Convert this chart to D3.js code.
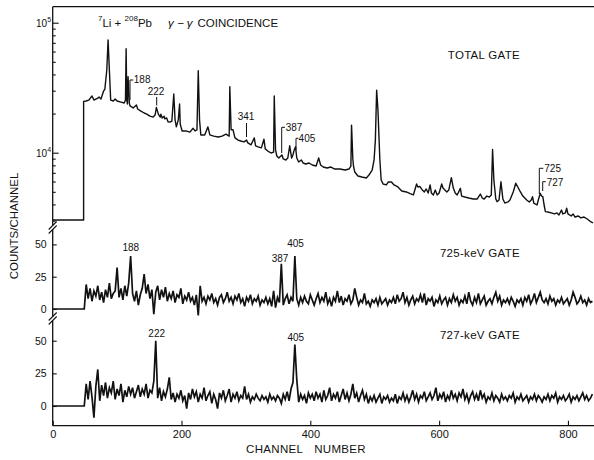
<!DOCTYPE html>
<html>
<head>
<meta charset="utf-8">
<script src="https://cdn.jsdelivr.net/npm/d3@7"></script>
<style>
body { margin: 0; background: #fff; }
svg { display: block; font-family: "Liberation Sans", Arial, sans-serif; }
</style>
</head>
<body>
<svg id="svg" width="594" height="460"></svg>
<script>
// ---- data ----
// total gate spectrum: [channel, counts]
const totalSpectrum = [
  [0,3040],[48,3040],[48,24800],[52,25000],[56,25400],[61,27300],[64,25400],[70,26300],[72,26800],[75,25900],
  [79,29800],[81,30900],[84,43300],[86,73600],[88,43300],[90,25400],[94,25000],[97,25900],[100,25000],[106,24500],
  [111,24100],[113,25400],[114,63100],[115,25400],[116,23700],[117,38500],[119,24100],[120,22900],[125,22100],[130,23300],
  [132,21700],[137,20900],[142,20200],[146,19800],[151,19100],[156,18800],[159,19500],[161,22300],[164,19800],[167,18800],
  [168,19800],[170,18500],[173,19100],[174,18200],[177,18500],[179,17300],[182,17200],[185,17500],[188,28300],[190,17900],
  [192,15800],[195,17900],[197,23700],[198,16600],[201,14700],[207,14700],[213,14400],[218,15400],[221,14700],[224,15000],
  [226,42700],[228,17900],[230,13700],[236,13700],[241,15800],[244,13700],[250,13400],[257,13200],[263,13400],[269,13900],
  [274,13400],[275,32200],[277,15000],[280,15000],[283,13000],[288,12500],[292,12300],[297,12100],[301,12500],[303,11900],
  [308,11500],[313,13000],[315,11300],[319,11100],[324,10900],[328,12700],[330,10700],[334,10300],[339,9950],[343,10100],
  [344,27300],[346,10500],[348,9430],[351,9100],[356,9600],[358,8950],[362,8790],[365,9100],[368,11300],[371,9100],
  [373,9600],[375,10500],[377,11100],[379,9100],[382,8480],[386,8790],[389,8330],[393,8190],[398,8330],[403,8040],
  [409,7900],[413,9100],[416,8040],[420,7760],[426,7620],[432,7760],[438,7490],[446,7490],[454,7360],[460,7490],
  [463,7900],[464,16300],[466,9000],[467,7900],[469,7110],[474,6620],[480,6500],[487,6390],[491,6730],[496,7360],
  [499,8790],[501,12500],[503,30300],[505,21300],[508,8790],[510,6170],[513,5740],[518,5650],[521,5950],[526,5950],
  [530,5650],[536,5450],[542,5070],[549,4990],[555,4840],[560,4730],[565,5740],[567,5450],[570,5500],[574,5160],
  [577,4990],[580,5260],[583,4900],[586,5650],[588,4900],[591,4730],[594,5160],[597,4730],[600,4900],[604,5740],
  [606,5350],[609,5160],[612,4990],[615,5160],[619,6420],[622,5350],[625,4900],[628,4730],[633,5320],[635,4640],
  [640,4560],[646,4480],[653,4400],[659,4400],[664,4810],[667,4480],[670,4400],[674,4640],[678,4560],[681,4730],
  [683,10600],[685,6170],[688,4400],[690,4200],[693,4330],[696,5980],[699,4400],[702,4100],[707,4180],[710,4330],
  [715,4990],[719,5820],[723,5350],[726,5010],[730,4640],[736,4330],[740,4180],[743,4330],[745,4590],[747,4100],
  [752,3960],[754,4330],[757,4870],[759,4640],[761,4590],[763,3960],[765,3520],[769,3500],[774,3440],[779,3380],
  [783,3440],[786,3320],[790,3620],[792,3380],[796,3440],[798,3740],[800,3380],[805,3260],[808,3380],[811,3200],
  [816,3260],[820,3150],[825,3200],[830,3090],[834,2980],[839,2880]
]

// gated spectra: counts every gateStep channels, starting at gateStart
const gateStart = 49
const gateStep = 3
const gate725 = [
  0,19,8,16,6,14,10,18,7,13, 5,15,9,20,8,12,14,32,9,16, 7,18,10,20,41,12,6,14,3,11,
  16,27,12,19,8,15,-4,13,18,7, 15,9,17,6,12,8,14,5,11,9, 16,4,10,7,13,6,9,3,11,-5,
  18,6,9,4,10,7,12,5,8,3, 9,11,5,8,13,6,9,4,10,7, 12,5,8,2,9,6,11,4,8,6,
  10,3,7,5,9,4,8,2,14,1, 9,5,35,3,8,11,4,9,6,41, 8,3,9,5,10,6,4,11,7,3,
  8,12,5,9,6,13,4,8,2,9, 6,14,5,10,3,8,6,11,4,7, 16,9,3,7,5,12,4,6,2,7,
  5,8,3,9,4,6,8,3,7,5, 9,4,11,6,8,13,5,9,3,7, 10,4,8,6,11,5,12,3,8,6,
  9,2,7,5,10,4,7,9,3,8, 5,11,6,9,3,7,5,10,4,13, 6,3,9,5,12,4,7,10,3,6,
  8,4,9,13,6,10,3,7,5,8, 4,9,6,2,7,5,8,3,9,6, 11,4,7,12,5,9,13,7,5,8,
  4,10,6,8,3,7,5,9,4,6, 8,3,7,13,9,4,6,10,5,7, 3,8,5,6
]
const gate727 = [
  0,17,5,19,7,-9,15,28,4,16, 8,18,6,14,10,19,5,13,8,17, 3,12,7,15,9,14,6,11,16,7,
  13,9,17,6,12,10,19,50,6,14, 4,11,7,13,22,5,10,3,9,6, 12,4,8,-2,10,5,13,7,11,3,
  9,6,14,4,8,11,2,9,5,-2, 10,6,12,4,8,13,3,9,6,11, 4,8,6,15,5,9,3,7,5,9,
  6,4,8,5,7,3,9,5,7,4, 8,6,2,9,5,11,4,13,18,47, 20,3,9,5,8,2,10,6,9,4,
  11,6,9,3,12,5,8,14,4,9, 6,11,3,8,13,5,10,4,9,17, 6,10,3,8,12,5,9,2,7,4,
  8,3,6,9,2,7,5,8,3,6, 4,9,2,7,5,10,4,8,3,7, 12,5,9,3,8,6,11,4,7,10,
  5,8,14,4,9,6,11,3,8,5, 12,6,9,4,10,7,13,5,9,3, 8,11,5,9,4,12,6,9,3,7,
  5,10,4,8,6,3,9,5,7,4, 8,6,10,3,7,5,9,4,6,8, 3,7,5,9,4,8,6,3,7,5,
  9,4,8,6,10,3,7,5,8,4, 6,9,3,7,5,8,4,7,10,5, 8,4,6,9
]

const channelTicks = [0, 200, 400, 600, 800]
const logMajor = [1e4, 1e5]
const logMinor = [3000,4000,5000,6000,7000,8000,9000,20000,30000,40000,50000,60000,70000,80000,90000]
const gateTicks = [0, 25, 50]

// peak labels
const totalLabels = ['188', '222', '341', '387', '405', '725', '727']
const gateLabels725 = ['188', '387', '405']
const gateLabels727 = ['222', '405']

// ---- drawing ----
const svg = d3.select('#svg')
const ink = '#111'

const x = d3.scaleLinear().domain([0, 840]).range([52.7, 593.7])
const yTotal = d3.scaleLog().domain([1e4, 1e5]).range([152.7, 22.7])
const y725 = d3.scaleLinear().domain([0, 50]).range([309, 244.4])
const y727 = d3.scaleLinear().domain([0, 50]).range([406, 340.7])

const gatePoints = (vals) => [[0, 0]].concat(vals.map((v, i) => [gateStart + i * gateStep, v]))

// spectra
svg.append('path')
  .datum(totalSpectrum)
  .attr('fill', 'none')
  .attr('stroke', ink)
  .attr('stroke-width', 1.4)
  .attr('stroke-linejoin', 'round')
  .attr('d', d3.line().x(d => x(d[0])).y(d => yTotal(d[1])))

;[[gate725, y725], [gate727, y727]].forEach(g => {
  svg.append('path')
    .datum(gatePoints(g[0]))
    .attr('fill', 'none')
    .attr('stroke', ink)
    .attr('stroke-width', 1.7)
    .attr('d', d3.line().x(d => x(d[0])).y(d => g[1](d[1])))
})

// frame: top line and left axis line (with breaks)
const x0 = x(0)
svg.append('line').attr('x1', x0).attr('x2', 594).attr('y1', 6.7).attr('y2', 6.7)
  .attr('stroke', ink).attr('stroke-width', 1.3)
const axisSegs = [[6.7, 225.5], [229.5, 316.5], [320.5, 425.7]]
axisSegs.forEach(s => {
  svg.append('line').attr('x1', x0).attr('x2', x0).attr('y1', s[0]).attr('y2', s[1])
    .attr('stroke', ink).attr('stroke-width', 1.3)
})
// break marks
;[227.5, 318.5].forEach(b => {
  [-2, 2].forEach(off => {
    svg.append('line')
      .attr('x1', x0 - 4).attr('y1', b + off + 4)
      .attr('x2', x0 + 4).attr('y2', b + off - 4)
      .attr('stroke', ink).attr('stroke-width', 1.1)
  })
})

// log ticks (inward)
const tickStyle = g => {
  g.select('.domain').remove()
  g.selectAll('line').attr('stroke', ink).attr('stroke-width', 1.1)
}
svg.append('g').attr('transform', `translate(${x0},0)`)
  .call(d3.axisRight(yTotal).tickValues(logMinor).tickSize(3).tickFormat(''))
  .call(tickStyle)
svg.append('g').attr('transform', `translate(${x0},0)`)
  .call(d3.axisRight(yTotal).tickValues(logMajor).tickSize(6).tickFormat(''))
  .call(tickStyle)

logMajor.forEach(v => {
  const t = svg.append('text').attr('x', 36).attr('y', yTotal(v) + 4)
    .attr('font-size', 10).attr('fill', ink)
  t.append('tspan').text('10')
  t.append('tspan').attr('font-size', 7).attr('dy', -5).text(String(Math.round(Math.log10(v))))
})

// gate axes
;[y725, y727].forEach(sc => {
  svg.append('g').attr('transform', `translate(${x0},0)`)
    .call(d3.axisLeft(sc).tickValues(gateTicks).tickSize(-4).tickPadding(6))
    .call(tickStyle)
    .call(g => g.selectAll('text').attr('font-size', 10.5).attr('fill', ink)
      .attr('font-family', '"Liberation Sans", Arial, sans-serif'))
})

// bottom axis
svg.append('g').attr('transform', 'translate(0,425.7)')
  .call(d3.axisBottom(x).tickValues(channelTicks).tickSize(-5).tickSizeOuter(0).tickPadding(5))
  .call(g => {
    g.select('.domain').attr('stroke', ink).attr('stroke-width', 1.3)
      .attr('d', `M${x0},0H594`)
    g.selectAll('line').attr('stroke', ink).attr('stroke-width', 1.1)
    g.selectAll('text').attr('font-size', 11).attr('fill', ink)
      .attr('font-family', '"Liberation Sans", Arial, sans-serif')
  })

// axis titles
svg.append('text').attr('x', 306).attr('y', 453).attr('text-anchor', 'middle')
  .attr('font-size', 11.5).attr('word-spacing', 8).attr('letter-spacing', 0.3)
  .attr('fill', ink).text('CHANNEL NUMBER')
svg.append('text').attr('transform', 'translate(18,226) rotate(-90)')
  .attr('text-anchor', 'middle').attr('font-size', 11.5).attr('fill', ink)
  .text('COUNTS/CHANNEL')

// title
const title = svg.append('text').attr('x', 98).attr('y', 26.7).attr('font-size', 11.5).attr('fill', ink)
title.append('tspan').attr('font-size', 8).attr('dy', -6).text('7')
title.append('tspan').attr('dy', 6).text('Li + ')
title.append('tspan').attr('font-size', 8).attr('dy', -6).text('208')
title.append('tspan').attr('dy', 6).text('Pb')
title.append('tspan').attr('dx', 16).attr('font-style', 'italic').text('γ − γ')
title.append('tspan').attr('dx', 5).text('COINCIDENCE')

// panel names
const panelNames = [['TOTAL GATE', 59], ['725-keV GATE', 257.3], ['727-keV GATE', 339.3]]
panelNames.forEach(p => {
  svg.append('text').attr('x', 520).attr('y', p[1]).attr('text-anchor', 'end')
    .attr('font-size', 11.5).attr('letter-spacing', 0.3).attr('fill', ink).text(p[0])
})

// peak markers in the total spectrum
const markerPaths = [
  [[130, 100], [130, 80], [133.3, 80]],
  [[156.7, 97], [156.7, 105.5]],
  [[246.5, 123], [246.5, 137]],
  [[281.7, 153], [281.7, 127.3], [285, 127.3]],
  [[296, 150], [296, 138.3], [298.3, 138.3]],
  [[539.3, 194], [539.3, 168.3], [543.3, 168.3]],
  [[542.7, 191], [542.7, 181.7], [545.7, 181.7]]
]
const markerText = [[133.8, 83.3], [147.7, 95], [237.7, 120], [285.7, 130.7], [298.6, 141.7], [544.3, 172.3], [546.7, 186]]
totalLabels.forEach((lab, i) => {
  svg.append('path').attr('d', d3.line()(markerPaths[i]))
    .attr('fill', 'none').attr('stroke', ink).attr('stroke-width', 1)
  svg.append('text').attr('x', markerText[i][0]).attr('y', markerText[i][1])
    .attr('font-size', 10).attr('fill', ink).text(lab)
})

const gateText725 = [[130.8, 251], [280, 261.7], [295.5, 246.7]]
gateLabels725.forEach((lab, i) => {
  svg.append('text').attr('x', gateText725[i][0]).attr('y', gateText725[i][1])
    .attr('text-anchor', 'middle').attr('font-size', 10).attr('fill', ink).text(lab)
})
const gateText727 = [[156.7, 336.7], [295.8, 341]]
gateLabels727.forEach((lab, i) => {
  svg.append('text').attr('x', gateText727[i][0]).attr('y', gateText727[i][1])
    .attr('text-anchor', 'middle').attr('font-size', 10).attr('fill', ink).text(lab)
})
</script>
</body>
</html>
